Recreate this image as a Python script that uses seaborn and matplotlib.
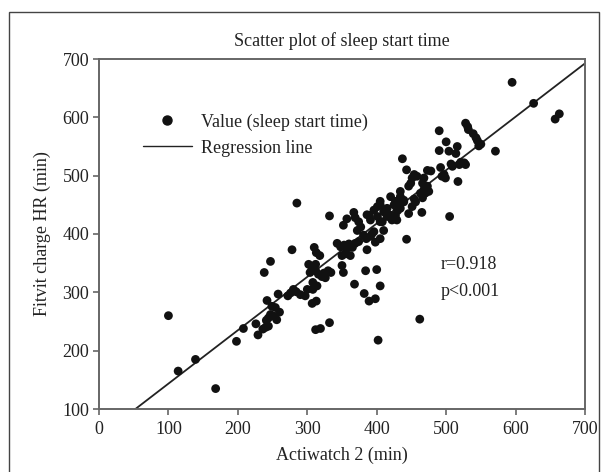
import matplotlib
matplotlib.use("Agg")
import matplotlib.pyplot as plt
import seaborn as sns
import pandas as pd
from matplotlib.lines import Line2D
from matplotlib.patches import Rectangle

# ---- data ----
actiwatch = [
    100, 114, 139, 168, 198, 208, 226, 229, 236, 240, 244,
    238, 247, 242, 258, 249, 254, 247, 244, 252, 260, 256, 241,
    272, 276, 280, 284, 290, 297, 300, 278, 285,
    302, 307, 304, 312, 316, 324, 321, 330, 334, 310, 313, 318, 308, 314, 308,
    307, 313, 312, 319, 332, 332, 326, 312,
    343, 348, 353, 357, 355, 350, 360, 365, 369, 374, 352, 357, 369, 374, 377,
    372, 367, 350, 352, 368, 362,
    381, 385, 391, 396, 398, 405, 410, 386, 389, 391, 386, 396, 401, 401, 405,
    405, 410, 408, 405, 415, 415, 420, 420, 384, 400, 382, 389, 398, 402, 405, 393,
    422, 429, 425, 430, 427, 434, 429, 425, 432, 439, 434, 427, 434, 439, 446,
    451, 456, 454, 463, 466, 470, 475, 468, 473, 466, 468, 446, 449, 451, 454,
    443, 437, 458, 473, 478, 443, 462, 465,
    490, 500, 504, 516, 514, 490, 507, 509, 492, 497, 499, 494, 521, 526, 528,
    519, 517, 505, 528, 531, 532, 539, 543, 545, 550, 547,
    571, 595, 626, 657, 663,
]
fitbit = [
    260, 165, 185, 135, 216, 238, 246, 227, 237, 240, 242,
    334, 353, 286, 297, 276, 274, 262, 256, 259, 266, 253, 252,
    294, 299, 305, 301, 296, 294, 305, 373, 453,
    348, 341, 334, 337, 331, 333, 327, 337, 334, 377, 368, 363, 317, 311, 305,
    281, 285, 236, 238, 248, 431, 325, 348,
    384, 378, 381, 375, 366, 363, 383, 377, 384, 387, 415, 426, 428, 421, 412,
    406, 437, 346, 334, 314, 363,
    398, 392, 396, 404, 386, 392, 406, 373, 432, 424, 433, 441, 430, 447, 421,
    450, 438, 421, 456, 444, 430, 432, 464, 337, 339, 298, 285, 289, 218, 311, 400,
    424, 424, 430, 440, 432, 444, 444, 450, 455, 455, 464, 456, 473, 458, 435,
    447, 455, 460, 470, 462, 470, 473, 476, 482, 487, 496, 482, 487, 496, 502,
    510, 529, 499, 509, 508, 391, 254, 437,
    577, 558, 542, 550, 538, 543, 520, 516, 514, 502, 496, 499, 523, 522, 519,
    519, 490, 430, 590, 584, 579, 572, 565, 560, 554, 551,
    542, 660, 624, 597, 606,
]
reg_slope = 0.915
reg_intercept = 52.0
r_text = "r=0.918"
p_text = "p<0.001"
title = "Scatter plot of sleep start time"
x_label = "Actiwatch 2 (min)"
y_label = "Fitvit charge HR (min)"
x_ticks = [0, 100, 200, 300, 400, 500, 600, 700]
y_ticks = [100, 200, 300, 400, 500, 600, 700]
legend_labels = ["Value (sleep start time)", "Regression line"]

df = pd.DataFrame({"Actiwatch": actiwatch, "Fitbit": fitbit})

# ---- style ----
sns.set_theme(style="ticks")
plt.rcParams["font.family"] = ["Liberation Serif", "DejaVu Serif"]
FS = 13
plt.rcParams["font.size"] = FS
txt_col = "#222222"
spine_col = "#666666"

fig = plt.figure(figsize=(6.1, 4.72), dpi=100)
ax = fig.add_axes([99 / 610, 63 / 472, 486 / 610, 350 / 472])

sns.scatterplot(data=df, x="Actiwatch", y="Fitbit", ax=ax, color="#111111",
                s=40, edgecolor="none", linewidth=0, legend=False, zorder=3)
ax.axline((0, reg_intercept), slope=reg_slope, color="#222222", lw=1.3, zorder=2)

ax.set_xlim(0, 700)
ax.set_ylim(100, 700)
ax.set_xticks(x_ticks)
ax.set_yticks(y_ticks)
ax.tick_params(axis="both", direction="out", length=4, width=1.2,
               color=spine_col, labelcolor=txt_col, labelsize=FS, pad=3)
ax.tick_params(axis="x", pad=5)
for sp in ax.spines.values():
    sp.set_visible(True)
    sp.set_color(spine_col)
    sp.set_linewidth(1.4)

ax.set_xlabel(x_label, fontsize=FS, color=txt_col, labelpad=6)
ax.set_ylabel(y_label, fontsize=FS, color=txt_col, labelpad=8)
ax.set_title(title, fontsize=FS, color=txt_col, pad=9)

handles = [
    Line2D([], [], marker="o", linestyle="none", color="#111111",
           markersize=6.5, label=legend_labels[0]),
    Line2D([], [], color="#222222", lw=1.0, label=legend_labels[1]),
]
leg = ax.legend(handles=handles, loc="upper left",
                bbox_to_anchor=(0.0905, 0.845), frameon=False,
                handlelength=2.7, handletextpad=0.5, labelspacing=0.5,
                borderpad=0, borderaxespad=0, fontsize=FS)
for t in leg.get_texts():
    t.set_color(txt_col)

ax.text(492, 348, r_text, fontsize=FS, color=txt_col, va="center", ha="left")
ax.text(492, 301, p_text, fontsize=FS, color=txt_col, va="center", ha="left")

# outer frame of the figure panel
fig.patches.append(Rectangle((9 / 610, -0.05), 590 / 610, 1.05 - 12 / 472,
                             transform=fig.transFigure, fill=False,
                             edgecolor="#444444", lw=1.0))

fig.savefig("out.png", dpi=100)
